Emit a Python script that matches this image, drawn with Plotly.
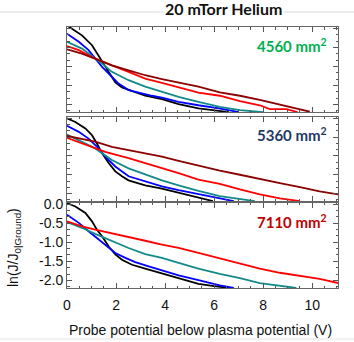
import plotly.graph_objects as go
from plotly.subplots import make_subplots

# panel labels (collector area)
areas = ["4560 mm<sup>2</sup>", "5360 mm<sup>2</sup>", "7110 mm<sup>2</sup>"]
area_colors = ["#00b050", "#1f3864", "#c00000"]

# ---- 4560 mm2 ----
p1_black_x = [0, 0.14, 0.61, 1.02, 1.29, 1.43, 1.70, 1.97, 2.24, 2.65, 3.19, 3.87, 4.55, 5.36, 6.0, 6.6]
p1_black_y = [0.08, 0.02, -0.18, -0.44, -0.71, -0.88, -1.15, -1.42, -1.55, -1.64, -1.77, -1.86, -1.99, -2.10, -2.15, -2.2]
p1_blue_x = [0, 0.48, 0.88, 1.22, 1.43, 1.77, 2.10, 2.51, 3.05, 3.46, 3.87, 4.55, 5.36, 6.2, 7.0]
p1_blue_y = [-0.135, -0.35, -0.57, -0.83, -1.01, -1.23, -1.45, -1.62, -1.71, -1.77, -1.82, -1.93, -2.02, -2.1, -2.2]
p1_teal_x = [0, 0.61, 1.15, 1.43, 1.83, 2.51, 3.19, 3.87, 4.55, 5.36, 6.23, 7.05, 8.0]
p1_teal_y = [-0.35, -0.53, -0.79, -0.92, -1.14, -1.36, -1.53, -1.67, -1.80, -1.93, -2.06, -2.15, -2.2]
p1_red_x = [0, 0.48, 1.02, 1.29, 1.83, 2.51, 3.19, 3.87, 4.55, 5.36, 6.23, 7.05, 7.86, 8.27, 8.95, 9.4]
p1_red_y = [-0.46, -0.57, -0.75, -0.83, -0.97, -1.14, -1.32, -1.43, -1.54, -1.69, -1.77, -1.91, -2.02, -2.12, -2.12, -2.2]
p1_dred_x = [0, 0.61, 1.29, 1.83, 2.51, 3.19, 3.87, 4.55, 5.36, 6.23, 7.05, 7.86, 8.68, 9.5, 9.9]
p1_dred_y = [-0.55, -0.66, -0.83, -0.97, -1.10, -1.23, -1.33, -1.43, -1.53, -1.68, -1.77, -1.88, -2.0, -2.12, -2.19]

# ---- 5360 mm2 ----
p2_black_x = [0, 0.34, 0.75, 1.02, 1.22, 1.43, 1.70, 1.97, 2.24, 2.51, 2.78, 3.19, 3.87, 4.55, 5.36, 5.95]
p2_black_y = [0.0, -0.10, -0.27, -0.45, -0.67, -0.93, -1.19, -1.41, -1.54, -1.65, -1.70, -1.78, -1.87, -1.98, -2.11, -2.2]
p2_blue_x = [0, 0.48, 0.88, 1.29, 1.56, 1.97, 2.51, 3.19, 3.87, 4.55, 5.36, 6.23, 6.8]
p2_blue_y = [-0.2, -0.36, -0.54, -0.80, -1.02, -1.28, -1.54, -1.67, -1.81, -1.91, -2.02, -2.13, -2.2]
p2_teal_x = [0, 0.61, 1.15, 1.43, 1.83, 2.51, 3.19, 3.87, 4.55, 5.36, 6.23, 7.05, 7.66]
p2_teal_y = [-0.43, -0.62, -0.80, -0.93, -1.11, -1.33, -1.50, -1.65, -1.78, -1.93, -2.07, -2.15, -2.2]
p2_red_x = [0, 0.61, 1.15, 1.56, 2.51, 3.19, 3.87, 4.55, 5.36, 6.23, 7.05, 7.86, 8.68, 9.5]
p2_red_y = [-0.52, -0.67, -0.80, -0.89, -1.06, -1.19, -1.31, -1.46, -1.63, -1.74, -1.89, -2.02, -2.13, -2.2]
p2_dred_x = [0, 0.61, 1.15, 1.83, 2.51, 3.19, 3.87, 4.55, 5.36, 6.23, 7.05, 7.86, 8.68, 9.5, 10.3, 11.05]
p2_dred_y = [-0.47, -0.54, -0.62, -0.76, -0.84, -0.93, -1.02, -1.13, -1.26, -1.39, -1.50, -1.60, -1.72, -1.83, -1.94, -2.02]

# ---- 7110 mm2 ----
p3_black_x = [0, 0.34, 0.75, 1.02, 1.22, 1.43, 1.70, 1.97, 2.24, 2.65, 3.19, 3.87, 4.55, 5.36, 6.0, 6.6]
p3_black_y = [0.03, -0.06, -0.23, -0.45, -0.67, -0.84, -1.11, -1.32, -1.46, -1.59, -1.69, -1.81, -1.94, -2.09, -2.15, -2.2]
p3_blue_x = [0, 0.48, 0.88, 1.29, 1.70, 1.97, 2.38, 2.78, 3.33, 3.87, 4.55, 5.36, 6.23, 6.8]
p3_blue_y = [-0.275, -0.49, -0.71, -0.93, -1.15, -1.28, -1.41, -1.52, -1.63, -1.74, -1.87, -1.99, -2.13, -2.2]
p3_teal_x = [0, 0.61, 1.15, 1.70, 2.51, 3.19, 3.87, 4.55, 5.36, 6.23, 7.05, 7.86, 8.68, 9.35]
p3_teal_y = [-0.47, -0.62, -0.78, -0.93, -1.15, -1.31, -1.41, -1.54, -1.69, -1.83, -1.94, -2.07, -2.15, -2.2]
p3_red_x = [0, 0.61, 1.15, 1.83, 2.51, 3.19, 3.87, 4.55, 5.36, 6.23, 7.05, 7.86, 8.68, 9.5, 10.3, 11.05]
p3_red_y = [-0.45, -0.58, -0.67, -0.76, -0.87, -0.96, -1.06, -1.15, -1.28, -1.42, -1.54, -1.69, -1.80, -1.89, -1.96, -2.07]

y_tickvals = [0, -0.5, -1.0, -1.5, -2.0]
y_ticktext = ["0.0", "-0.5", "-1.0", "-1.5", "-2.0"]
x_tickvals = [0, 2, 4, 6, 8, 10]

BLACK, BLUE, TEAL, RED, DRED = "#000000", "#0000ff", "#138a8a", "#ff0000", "#8b0000"

panels = [
    [(p1_black_x, p1_black_y, BLACK), (p1_blue_x, p1_blue_y, BLUE), (p1_teal_x, p1_teal_y, TEAL),
     (p1_red_x, p1_red_y, RED), (p1_dred_x, p1_dred_y, DRED)],
    [(p2_black_x, p2_black_y, BLACK), (p2_blue_x, p2_blue_y, BLUE), (p2_teal_x, p2_teal_y, TEAL),
     (p2_red_x, p2_red_y, RED), (p2_dred_x, p2_dred_y, DRED)],
    [(p3_black_x, p3_black_y, BLACK), (p3_blue_x, p3_blue_y, BLUE), (p3_teal_x, p3_teal_y, TEAL),
     (p3_red_x, p3_red_y, RED)],
]

fig = make_subplots(rows=3, cols=1)
for i, curves in enumerate(panels):
    for xs, ys, c in curves:
        fig.add_trace(go.Scatter(x=xs, y=ys, mode="lines", line=dict(color=c, width=1.8),
                                 showlegend=False, hoverinfo="skip"), row=i + 1, col=1)

# pixel-matched domains
domains = [[0.674, 1.0], [0.333, 0.656], [0.0, 0.327]]
for i in range(3):
    last = i == 2
    fig.update_xaxes(row=i + 1, col=1, domain=[0, 1], range=[0, 11.05],
                     tickvals=x_tickvals, showticklabels=last, ticklabelstandoff=4,
                     ticks="inside", ticklen=5, tickcolor="#555", mirror="ticks",
                     showline=True, linecolor="#666", linewidth=1, showgrid=False, zeroline=False,
                     minor=dict(dtick=0.5, tick0=0, ticks="inside", ticklen=2.5, tickcolor="#555"),
                     tickfont=dict(family="Liberation Sans, Arial", size=14, color="#111"))
    fig.update_yaxes(row=i + 1, col=1, domain=domains[i], range=[-2.2, 0.04],
                     tickvals=y_tickvals, ticktext=y_ticktext, showticklabels=last,
                     ticks="inside", ticklen=5, tickcolor="#555", mirror="ticks",
                     showline=True, linecolor="#666", linewidth=1, showgrid=False, zeroline=False,
                     minor=dict(dtick=0.5 / 3, tick0=0, ticks="inside", ticklen=2.5, tickcolor="#555"),
                     tickfont=dict(family="Liberation Sans, Arial", size=14, color="#111"))

ann_y = [0.931, 0.590, 0.253]
for txt, col, yy in zip(areas, area_colors, ann_y):
    fig.add_annotation(x=0.83, y=yy, xref="paper", yref="paper", text="<b>%s</b>" % txt,
                       xanchor="center", yanchor="middle",
                       showarrow=False, font=dict(family="Lato", size=15, color=col))

fig.add_shape(type="line", xref="paper", yref="paper", x0=-0.3, x1=1.1, y0=1.0575, y1=1.0575,
              line=dict(color="#d9d9d9", width=1), layer="below")
fig.add_shape(type="rect", xref="paper", yref="paper", x0=-0.3, x1=1.1, y0=-0.2, y1=-0.1916,
              fillcolor="#f2f2f2", line=dict(width=0), layer="below")

fig.add_annotation(x=0.579, y=1.069, xref="paper", yref="paper", text="<b>20 mTorr Helium</b>",
                   xanchor="center", yanchor="middle", showarrow=False, bgcolor="white",
                   font=dict(family="Lato", size=16, color="#111"))
fig.add_annotation(x=0.494, y=-0.161, xref="paper", yref="paper",
                   text="Probe potential below plasma potential (V)", showarrow=False,
                   xanchor="center", yanchor="middle",
                   font=dict(family="Liberation Sans, Arial", size=14, color="#111"))
fig.add_annotation(x=-0.1956, y=0.157, xref="paper", yref="paper", textangle=-90,
                   text="ln(J/J<sub>0|Ground</sub>)", showarrow=False,
                   xanchor="center", yanchor="middle",
                   font=dict(family="Liberation Sans, Arial", size=14, color="#111"))

fig.update_layout(width=354, height=342, margin=dict(l=67, r=16, t=27, b=54),
                  plot_bgcolor="white", paper_bgcolor="white")

# drop the default page margin so the figure sits at the window origin
fig.write_html("out.html", config={"displayModeBar": False},
               post_script="document.body.style.margin='0px';")
